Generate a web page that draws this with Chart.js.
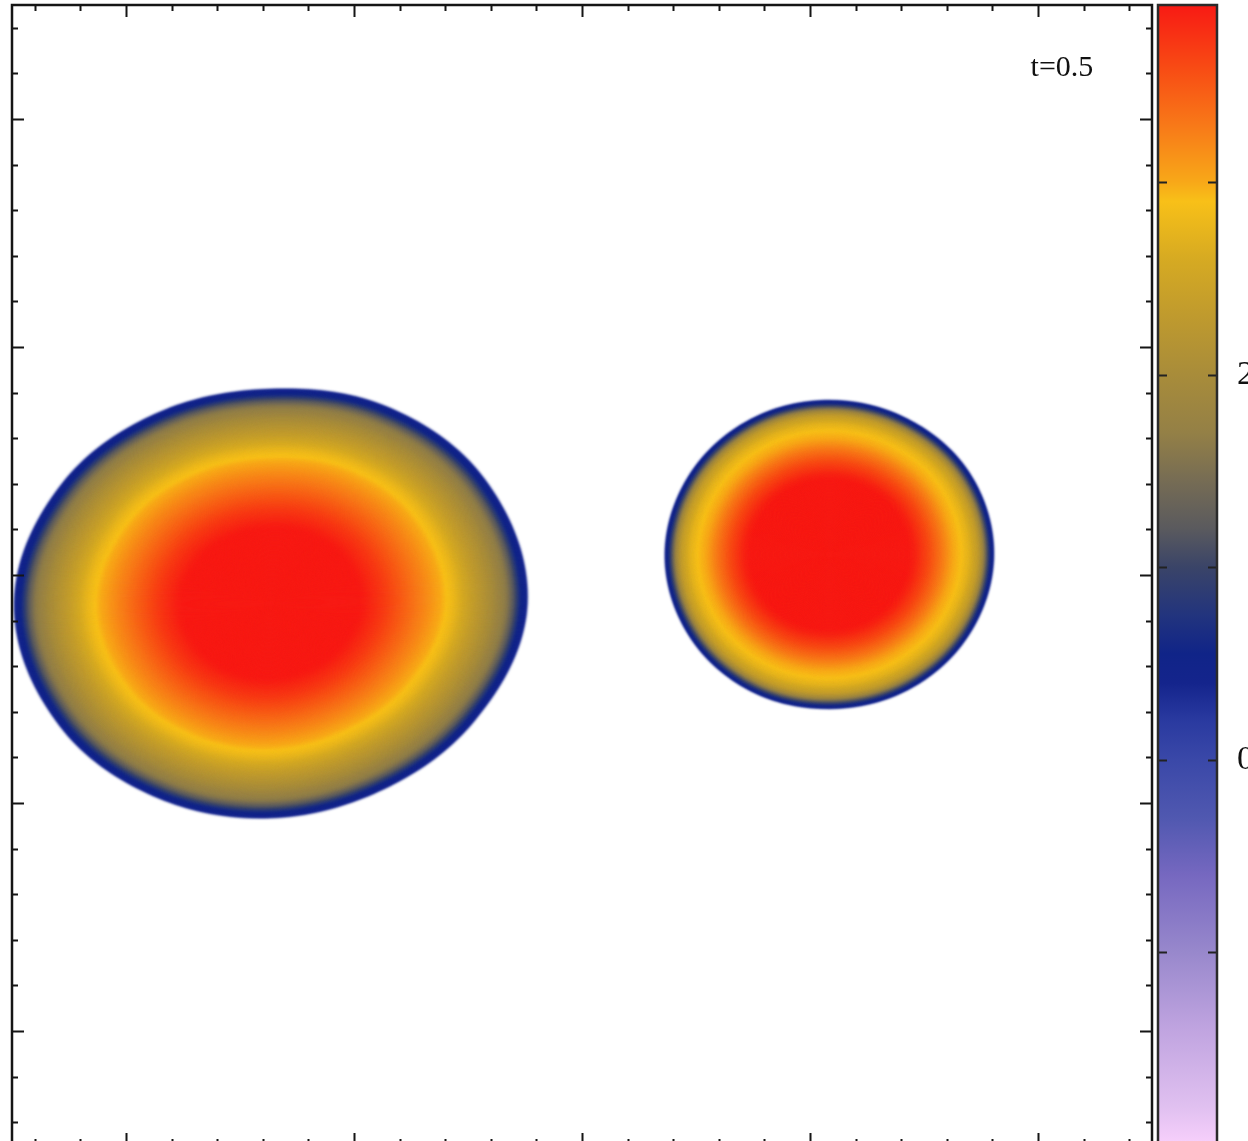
<!DOCTYPE html>
<html><head><meta charset="utf-8">
<script src="https://cdn.jsdelivr.net/npm/chart.js@4.4.1/dist/chart.umd.min.js"></script>
<style>
html,body{margin:0;padding:0;background:#fff;overflow:hidden;width:1248px;height:1141px;}
#main{position:absolute;left:0;top:0;}
#cbar{position:absolute;left:1150px;top:0;}
</style></head><body>
<canvas id="main" width="1156" height="1160"></canvas>
<canvas id="cbar" width="98" height="1160"></canvas>
<script>
// ---------------- data ----------------
const blobNames = ['left blob', 'right blob'];
const blobCenterX = [-2.73, 2.17];
const blobCenterY = [-0.25, 0.18];
// boundary radius (data units) at polar angles 0,30,...,330 deg (counter-clockwise from +x)
const boundaryAngles = [0, 30, 60, 90, 120, 150, 180, 210, 240, 270, 300, 330];
const leftBlobRadii = [2.25, 2.17, 2.00, 1.88, 1.94, 2.11, 2.25, 2.14, 1.97, 1.88, 1.90, 2.06];
const rightBlobRadii = [1.44, 1.42, 1.37, 1.35, 1.37, 1.41, 1.44, 1.42, 1.38, 1.35, 1.37, 1.41];
// field value along the radius (fraction of boundary radius -> value)
const leftProfileFrac = [0, 0.30, 0.36, 0.44, 0.52, 0.60, 0.66, 0.71, 0.78, 0.86, 0.92, 0.95, 0.975, 1.0];
const leftProfileValue = [4.5, 3.97, 3.9, 3.7, 3.45, 3.2, 3.0, 2.8, 2.4, 2.0, 1.6, 1.1, 0.55, 0.35];
const rightProfileFrac = [0, 0.46, 0.52, 0.60, 0.68, 0.75, 0.80, 0.85, 0.90, 0.93, 0.955, 0.978, 1.0];
const rightProfileValue = [4.5, 3.96, 3.85, 3.6, 3.3, 3.0, 2.9, 2.7, 2.35, 1.9, 1.2, 0.6, 0.35];
// colour scale
const cbMin = -2.0, cbMax = 3.92;
const cmapValues = [-2.0, -1.8, -1.4, -1.0, -0.6, -0.3, 0.0, 0.2, 0.4, 0.55, 0.75, 1.0, 1.2, 1.45, 1.7, 2.0, 2.3, 2.6, 2.9, 3.0, 3.3, 3.6, 3.92];
const cmapColors = ['#f8d0fc','#e0c0f0','#c0a4e0','#9888cc','#7668c0','#5058b0','#3a48a8','#2a3aa0','#14248c','#102488','#22347e','#3a4468','#5a5a5e','#766c54','#948046','#a88c3a','#bf9a2e','#d6aa22','#f8c018','#f8a818','#f87818','#f84a14','#f81a14'];
const cbTickValues = [-1, 0, 1, 2, 3];
const cbTickLabels = ['', '0', '', '2', ''];
const xMajorTicks = [-4, -2, 0, 2, 4];
const yMajorTicks = [-4, -2, 0, 2, 4];
const minorStep = 0.4;
const annotationText = 't=0.5';
const annotationX = 4.21, annotationY = 4.45;

// ---------------- helpers ----------------
function hexToRgb(h){return [parseInt(h.substr(1,2),16),parseInt(h.substr(3,2),16),parseInt(h.substr(5,2),16)];}
const cmapRgb = cmapColors.map(hexToRgb);
function colorFor(v){
  const n = cmapValues.length;
  if (v <= cmapValues[0]) return 'rgb(' + cmapRgb[0].join(',') + ')';
  if (v >= cmapValues[n-1]) return 'rgb(' + cmapRgb[n-1].join(',') + ')';
  for (let i = 0; i < n-1; i++) {
    if (v <= cmapValues[i+1]) {
      const t = (v - cmapValues[i]) / (cmapValues[i+1] - cmapValues[i]);
      const a = cmapRgb[i], b = cmapRgb[i+1];
      return 'rgb(' + [0,1,2].map(k => Math.round(a[k] + (b[k]-a[k])*t)).join(',') + ')';
    }
  }
}
function profileAt(fr, fracs, vals){
  for (let i = 0; i < fracs.length-1; i++) {
    if (fr <= fracs[i+1]) {
      const t = (fr - fracs[i]) / (fracs[i+1] - fracs[i]);
      return vals[i] + (vals[i+1]-vals[i])*t;
    }
  }
  return vals[vals.length-1];
}
function radiusAt(deg, R){
  const n = R.length, step = 360/n;
  const d = ((deg % 360) + 360) % 360;
  const idx = d/step, i = Math.floor(idx), t = idx - i;
  const p0 = R[(i-1+n)%n], p1 = R[i%n], p2 = R[(i+1)%n], p3 = R[(i+2)%n];
  return 0.5*((2*p1) + (-p0+p2)*t + (2*p0-5*p1+4*p2-p3)*t*t + (-p0+3*p1-3*p2+p3)*t*t*t);
}

const blobs = [
  {radii: leftBlobRadii, fr: leftProfileFrac, val: leftProfileValue},
  {radii: rightBlobRadii, fr: rightProfileFrac, val: rightProfileValue}
];

// ---------------- main chart ----------------
const blobPlugin = {
  id: 'blobs',
  beforeDatasetsDraw(chart){
    const {ctx, chartArea: a, scales: {x, y}} = chart;
    const sx = x.getPixelForValue(1) - x.getPixelForValue(0);
    const sy = y.getPixelForValue(0) - y.getPixelForValue(1);
    ctx.save();
    ctx.beginPath(); ctx.rect(a.left, a.top, a.right-a.left, a.bottom-a.top); ctx.clip();
    ctx.filter = 'blur(1.4px)';
    blobs.forEach((b, bi) => {
      const cx = x.getPixelForValue(blobCenterX[bi]);
      const cy = y.getPixelForValue(blobCenterY[bi]);
      const NA = 240;
      const unit = [];
      for (let k = 0; k < NA; k++) {
        const deg = k*360/NA, th = deg*Math.PI/180, r = radiusAt(deg, b.radii);
        unit.push([r*Math.cos(th)*sx, -r*Math.sin(th)*sy]);
      }
      const NR = 260;
      for (let j = NR; j >= 1; j--) {
        const f = j/NR;
        ctx.fillStyle = colorFor(profileAt(f, b.fr, b.val));
        ctx.beginPath();
        unit.forEach((p, k) => { const px = cx + p[0]*f, py = cy + p[1]*f; if (k===0) ctx.moveTo(px,py); else ctx.lineTo(px,py); });
        ctx.closePath(); ctx.fill();
      }
    });
    ctx.restore();
  },
  afterDraw(chart){
    const {ctx, chartArea: a, scales: {x, y}} = chart;
    ctx.save();
    ctx.strokeStyle = '#151515';
    ctx.lineWidth = 2;
    const ticksFor = (majors) => {
      const out = [];
      for (let v = -4.8; v <= 4.81; v += minorStep) {
        const vv = Math.round(v*10)/10;
        out.push([vv, majors.some(m => Math.abs(m-vv) < 1e-6)]);
      }
      return out;
    };
    ticksFor(xMajorTicks).forEach(([v, maj]) => {
      const px = Math.round(x.getPixelForValue(v)) + 0.5, L = maj ? 12 : 6;
      ctx.beginPath(); ctx.moveTo(px, a.top); ctx.lineTo(px, a.top+L); ctx.moveTo(px, a.bottom); ctx.lineTo(px, a.bottom-L); ctx.stroke();
    });
    ticksFor(yMajorTicks).forEach(([v, maj]) => {
      const py = Math.round(y.getPixelForValue(v)) + 0.5, L = maj ? 12 : 6;
      ctx.beginPath(); ctx.moveTo(a.left, py); ctx.lineTo(a.left+L, py); ctx.moveTo(a.right, py); ctx.lineTo(a.right-L, py); ctx.stroke();
    });
    ctx.lineWidth = 2.5;
    ctx.strokeRect(a.left, a.top, a.right-a.left, a.bottom-a.top);
    ctx.fillStyle = '#111';
    ctx.font = '30px "Liberation Serif", "DejaVu Serif", serif';
    ctx.textAlign = 'center'; ctx.textBaseline = 'middle';
    ctx.fillText(annotationText, x.getPixelForValue(annotationX), y.getPixelForValue(annotationY));
    ctx.restore();
  }
};

new Chart(document.getElementById('main'), {
  type: 'scatter',
  data: { datasets: [{ label: 'blob centres', data: blobCenterX.map((v,i) => ({x: v, y: blobCenterY[i]})), pointRadius: 0 }] },
  options: {
    responsive: false, animation: false, devicePixelRatio: 1,
    layout: { padding: { left: 12, top: 5, right: 4, bottom: 15 } },
    plugins: { legend: { display: false }, tooltip: { enabled: false } },
    scales: {
      x: { type: 'linear', min: -5, max: 5, display: false },
      y: { type: 'linear', min: -5, max: 5, display: false }
    }
  },
  plugins: [blobPlugin]
});

// ---------------- colour bar ----------------
const cbPlugin = {
  id: 'cbframe',
  afterDraw(chart){
    const {ctx, chartArea: a, scales: {y}} = chart;
    ctx.save();
    ctx.strokeStyle = '#222'; ctx.lineWidth = 2;
    cbTickValues.forEach(v => {
      const py = Math.round(y.getPixelForValue(v)) + 0.5;
      ctx.beginPath(); ctx.moveTo(a.left, py); ctx.lineTo(a.left+9, py); ctx.moveTo(a.right, py); ctx.lineTo(a.right-9, py); ctx.stroke();
    });
    ctx.strokeStyle = '#2a2a2a'; ctx.lineWidth = 2.5;
    ctx.strokeRect(a.left, a.top, a.right-a.left, a.bottom-a.top);
    ctx.fillStyle = '#111';
    ctx.font = '34px "Liberation Serif", "DejaVu Serif", serif';
    ctx.textAlign = 'left'; ctx.textBaseline = 'middle';
    cbTickValues.forEach((v, i) => { if (cbTickLabels[i]) ctx.fillText(cbTickLabels[i], a.right + 20, y.getPixelForValue(v)); });
    ctx.restore();
  }
};

new Chart(document.getElementById('cbar'), {
  type: 'bar',
  data: {
    labels: ['colour scale'],
    datasets: [{
      data: [[cbMin, cbMax]],
      borderWidth: 0,
      barPercentage: 1, categoryPercentage: 1,
      backgroundColor: (c) => {
        const ch = c.chart; if (!ch.chartArea) return '#888';
        const ys = ch.scales.y;
        const g = ch.ctx.createLinearGradient(0, ys.getPixelForValue(cbMin), 0, ys.getPixelForValue(cbMax));
        cmapValues.forEach((v, i) => g.addColorStop((v - cbMin)/(cbMax - cbMin), cmapColors[i]));
        return g;
      }
    }]
  },
  options: {
    responsive: false, animation: false, devicePixelRatio: 1,
    layout: { padding: { left: 8, top: 5, right: 31, bottom: 15 } },
    plugins: { legend: { display: false }, tooltip: { enabled: false } },
    scales: {
      x: { display: false },
      y: { min: cbMin, max: cbMax, display: false }
    }
  },
  plugins: [cbPlugin]
});
</script>
</body></html>
